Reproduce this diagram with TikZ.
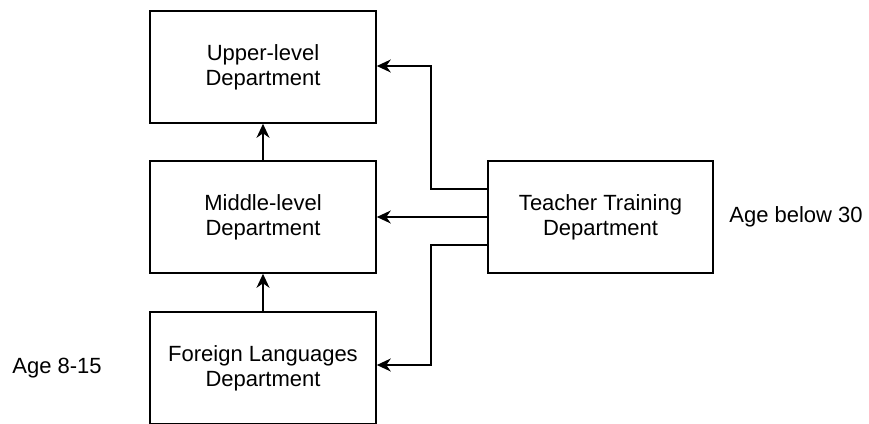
\documentclass[tikz,border=0pt]{standalone}
\usepackage{fontspec}
\setmainfont{Liberation Sans}
\usetikzlibrary{arrows.meta}
\begin{document}
\begin{tikzpicture}[x=1pt,y=-1pt,
  dept/.style={draw=black, line width=1.6pt, minimum width=226pt, minimum height=112pt,
    inner sep=0pt, align=center, font=\fontsize{22}{25}\selectfont},
  lbl/.style={inner sep=0pt, font=\fontsize{22}{25}\selectfont},
  arr/.style={draw=black, line width=1.6pt, -{Stealth[length=14pt,width=13pt,inset=4.5pt]}}]
\useasboundingbox[fill=white] (0,0) rectangle (869,423);
\begin{scope}
\clip (0,0) rectangle (869,423);
\node[dept] (upper) at (263,67) {Upper-level\\Department};
\node[dept] (middle) at (263,217) {Middle-level\\Department};
\node[dept] (foreign) at (263,368) {Foreign Languages\\Department};
\node[dept, minimum width=225pt] (teach) at (600.5,217) {Teacher Training\\Department};
\node[lbl] (age30) at (796,217) {Age below 30};
\node[lbl] (age8) at (57,368) {Age 8-15};
\draw[arr] (middle.north) -- (upper.south);
\draw[arr] (foreign.north) -- (middle.south);
\draw[arr] (teach.west) -- (middle.east);
\draw[arr] ([yshift=28pt]teach.west) -- ++(-56,0) |- ([yshift=1pt]upper.east);
\draw[arr] ([yshift=-28pt]teach.west) -- ++(-56,0) |- ([yshift=3pt]foreign.east);
\end{scope}
\end{tikzpicture}
\end{document}
